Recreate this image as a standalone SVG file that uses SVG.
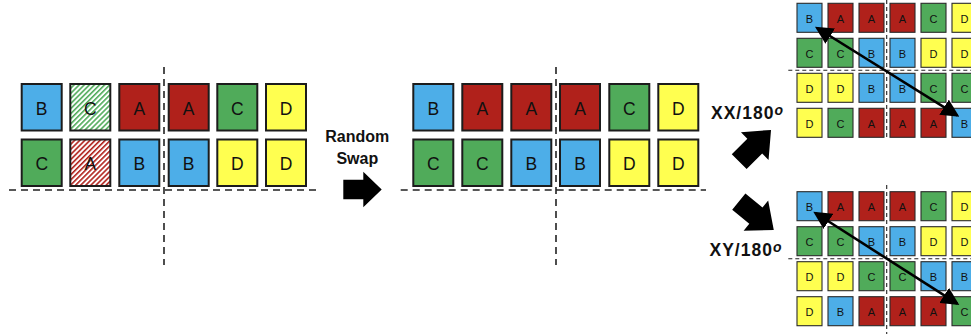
<svg xmlns="http://www.w3.org/2000/svg" width="971" height="334" viewBox="0 0 971 334">
<style>
.bx{stroke:#1c1c1c;stroke-width:2}
.sb{stroke:#2a2a2a;stroke-width:1.1}
.b{fill:#4DAEE8}.r{fill:#B0211B}.g{fill:#50AB5A}.y{fill:#FFFF50}
.hg{fill:url(#hatchG)}.hr{fill:url(#hatchR)}
.t{font-family:"Liberation Sans",Arial,sans-serif;font-size:17.5px;fill:#111;text-anchor:middle}
.ts{font-family:"Liberation Sans",Arial,sans-serif;font-size:11px;fill:#111;text-anchor:middle}
.lbl{font-family:"Liberation Sans",Arial,sans-serif;font-weight:bold;font-size:17.5px;fill:#111;letter-spacing:1px}
.sw{font-family:"Liberation Sans",Arial,sans-serif;font-weight:bold;font-size:16px;fill:#111;text-anchor:middle}
.sup{font-size:14px;font-style:italic;letter-spacing:0}
.dl{stroke:#222;stroke-width:1.6;stroke-dasharray:7 5;fill:none}
.ds{stroke:#222;stroke-width:1.1;stroke-dasharray:4 3;fill:none}
.da{stroke:#000;stroke-width:2.6;fill:none;marker-start:url(#ah);marker-end:url(#ah)}
</style>
<defs>
<pattern id="hatchG" width="3.6" height="3.6" patternUnits="userSpaceOnUse" patternTransform="rotate(45)">
<rect width="3.6" height="3.6" fill="#fff"/><rect width="1.6" height="3.6" fill="#50AB5A"/>
</pattern>
<pattern id="hatchR" width="3.6" height="3.6" patternUnits="userSpaceOnUse" patternTransform="rotate(45)">
<rect width="3.6" height="3.6" fill="#fff"/><rect width="1.6" height="3.6" fill="#B0211B"/>
</pattern>
<marker id="ah" viewBox="0 0 18 18" refX="15.5" refY="9" markerWidth="18" markerHeight="18" markerUnits="userSpaceOnUse" orient="auto-start-reverse">
<path d="M0,0 L18,9 L0,18 z" fill="#000"/>
</marker>
</defs>

<!-- Left grid -->
<g id="L11"><rect class="bx b" x="21.7" y="84" width="40" height="46.5"/><text class="t" x="41.7" y="114.5">B</text></g>
<g id="L12"><rect class="bx hg" x="70.3" y="84" width="40" height="46.5"/><text class="t" x="90.3" y="114.5">C</text></g>
<g id="L13"><rect class="bx r" x="119.3" y="84" width="40" height="46.5"/><text class="t" x="139.3" y="114.5">A</text></g>
<g id="L14"><rect class="bx r" x="168.7" y="84" width="40" height="46.5"/><text class="t" x="188.7" y="114.5">A</text></g>
<g id="L15"><rect class="bx g" x="217.3" y="84" width="40" height="46.5"/><text class="t" x="237.3" y="114.5">C</text></g>
<g id="L16"><rect class="bx y" x="266" y="84" width="40" height="46.5"/><text class="t" x="286" y="114.5">D</text></g>
<g id="L21"><rect class="bx g" x="21.7" y="139.5" width="40" height="46.5"/><text class="t" x="41.7" y="170">C</text></g>
<g id="L22"><rect class="bx hr" x="70.3" y="139.5" width="40" height="46.5"/><text class="t" x="90.3" y="170">A</text></g>
<g id="L23"><rect class="bx b" x="119.3" y="139.5" width="40" height="46.5"/><text class="t" x="139.3" y="170">B</text></g>
<g id="L24"><rect class="bx b" x="168.7" y="139.5" width="40" height="46.5"/><text class="t" x="188.7" y="170">B</text></g>
<g id="L25"><rect class="bx y" x="217.3" y="139.5" width="40" height="46.5"/><text class="t" x="237.3" y="170">D</text></g>
<g id="L26"><rect class="bx y" x="266" y="139.5" width="40" height="46.5"/><text class="t" x="286" y="170">D</text></g>

<!-- Middle grid -->
<g id="M11"><rect class="bx b" x="413.3" y="84" width="40" height="46.5"/><text class="t" x="433.3" y="114.5">B</text></g>
<g id="M12"><rect class="bx r" x="462.3" y="84" width="40" height="46.5"/><text class="t" x="482.3" y="114.5">A</text></g>
<g id="M13"><rect class="bx r" x="511.3" y="84" width="40" height="46.5"/><text class="t" x="531.3" y="114.5">A</text></g>
<g id="M14"><rect class="bx r" x="560" y="84" width="40" height="46.5"/><text class="t" x="580" y="114.5">A</text></g>
<g id="M15"><rect class="bx g" x="609.3" y="84" width="40" height="46.5"/><text class="t" x="629.3" y="114.5">C</text></g>
<g id="M16"><rect class="bx y" x="658.3" y="84" width="40" height="46.5"/><text class="t" x="678.3" y="114.5">D</text></g>
<g id="M21"><rect class="bx g" x="413.3" y="139.5" width="40" height="46.5"/><text class="t" x="433.3" y="170">C</text></g>
<g id="M22"><rect class="bx g" x="462.3" y="139.5" width="40" height="46.5"/><text class="t" x="482.3" y="170">C</text></g>
<g id="M23"><rect class="bx b" x="511.3" y="139.5" width="40" height="46.5"/><text class="t" x="531.3" y="170">B</text></g>
<g id="M24"><rect class="bx b" x="560" y="139.5" width="40" height="46.5"/><text class="t" x="580" y="170">B</text></g>
<g id="M25"><rect class="bx y" x="609.3" y="139.5" width="40" height="46.5"/><text class="t" x="629.3" y="170">D</text></g>
<g id="M26"><rect class="bx y" x="658.3" y="139.5" width="40" height="46.5"/><text class="t" x="678.3" y="170">D</text></g>

<!-- Top-right grid (XX/180) -->
<g id="X11"><rect class="sb b" x="797" y="3.3" width="25" height="29"/><text class="ts" x="809.5" y="22.5">B</text></g>
<g id="X12"><rect class="sb r" x="828" y="3.3" width="25" height="29"/><text class="ts" x="840.5" y="22.5">A</text></g>
<g id="X13"><rect class="sb r" x="859" y="3.3" width="25" height="29"/><text class="ts" x="871.5" y="22.5">A</text></g>
<g id="X14"><rect class="sb r" x="890" y="3.3" width="25" height="29"/><text class="ts" x="902.5" y="22.5">A</text></g>
<g id="X15"><rect class="sb g" x="921" y="3.3" width="25" height="29"/><text class="ts" x="933.5" y="22.5">C</text></g>
<g id="X16"><rect class="sb y" x="952" y="3.3" width="25" height="29"/><text class="ts" x="964.5" y="22.5">D</text></g>
<g id="X21"><rect class="sb g" x="797" y="38.3" width="25" height="29"/><text class="ts" x="809.5" y="57.5">C</text></g>
<g id="X22"><rect class="sb g" x="828" y="38.3" width="25" height="29"/><text class="ts" x="840.5" y="57.5">C</text></g>
<g id="X23"><rect class="sb b" x="859" y="38.3" width="25" height="29"/><text class="ts" x="871.5" y="57.5">B</text></g>
<g id="X24"><rect class="sb b" x="890" y="38.3" width="25" height="29"/><text class="ts" x="902.5" y="57.5">B</text></g>
<g id="X25"><rect class="sb y" x="921" y="38.3" width="25" height="29"/><text class="ts" x="933.5" y="57.5">D</text></g>
<g id="X26"><rect class="sb y" x="952" y="38.3" width="25" height="29"/><text class="ts" x="964.5" y="57.5">D</text></g>
<g id="X31"><rect class="sb y" x="797" y="73.3" width="25" height="29"/><text class="ts" x="809.5" y="92.5">D</text></g>
<g id="X32"><rect class="sb y" x="828" y="73.3" width="25" height="29"/><text class="ts" x="840.5" y="92.5">D</text></g>
<g id="X33"><rect class="sb b" x="859" y="73.3" width="25" height="29"/><text class="ts" x="871.5" y="92.5">B</text></g>
<g id="X34"><rect class="sb b" x="890" y="73.3" width="25" height="29"/><text class="ts" x="902.5" y="92.5">B</text></g>
<g id="X35"><rect class="sb g" x="921" y="73.3" width="25" height="29"/><text class="ts" x="933.5" y="92.5">C</text></g>
<g id="X36"><rect class="sb g" x="952" y="73.3" width="25" height="29"/><text class="ts" x="964.5" y="92.5">C</text></g>
<g id="X41"><rect class="sb y" x="797" y="108.3" width="25" height="29"/><text class="ts" x="809.5" y="127.5">D</text></g>
<g id="X42"><rect class="sb g" x="828" y="108.3" width="25" height="29"/><text class="ts" x="840.5" y="127.5">C</text></g>
<g id="X43"><rect class="sb r" x="859" y="108.3" width="25" height="29"/><text class="ts" x="871.5" y="127.5">A</text></g>
<g id="X44"><rect class="sb r" x="890" y="108.3" width="25" height="29"/><text class="ts" x="902.5" y="127.5">A</text></g>
<g id="X45"><rect class="sb r" x="921" y="108.3" width="25" height="29"/><text class="ts" x="933.5" y="127.5">A</text></g>
<g id="X46"><rect class="sb b" x="952" y="108.3" width="25" height="29"/><text class="ts" x="964.5" y="127.5">B</text></g>

<!-- Bottom-right grid (XY/180) -->
<g id="Y11"><rect class="sb b" x="797" y="191.7" width="25" height="29"/><text class="ts" x="809.5" y="210.9">B</text></g>
<g id="Y12"><rect class="sb r" x="828" y="191.7" width="25" height="29"/><text class="ts" x="840.5" y="210.9">A</text></g>
<g id="Y13"><rect class="sb r" x="859" y="191.7" width="25" height="29"/><text class="ts" x="871.5" y="210.9">A</text></g>
<g id="Y14"><rect class="sb r" x="890" y="191.7" width="25" height="29"/><text class="ts" x="902.5" y="210.9">A</text></g>
<g id="Y15"><rect class="sb g" x="921" y="191.7" width="25" height="29"/><text class="ts" x="933.5" y="210.9">C</text></g>
<g id="Y16"><rect class="sb y" x="952" y="191.7" width="25" height="29"/><text class="ts" x="964.5" y="210.9">D</text></g>
<g id="Y21"><rect class="sb g" x="797" y="226.7" width="25" height="29"/><text class="ts" x="809.5" y="245.9">C</text></g>
<g id="Y22"><rect class="sb g" x="828" y="226.7" width="25" height="29"/><text class="ts" x="840.5" y="245.9">C</text></g>
<g id="Y23"><rect class="sb b" x="859" y="226.7" width="25" height="29"/><text class="ts" x="871.5" y="245.9">B</text></g>
<g id="Y24"><rect class="sb b" x="890" y="226.7" width="25" height="29"/><text class="ts" x="902.5" y="245.9">B</text></g>
<g id="Y25"><rect class="sb y" x="921" y="226.7" width="25" height="29"/><text class="ts" x="933.5" y="245.9">D</text></g>
<g id="Y26"><rect class="sb y" x="952" y="226.7" width="25" height="29"/><text class="ts" x="964.5" y="245.9">D</text></g>
<g id="Y31"><rect class="sb y" x="797" y="261.7" width="25" height="29"/><text class="ts" x="809.5" y="280.9">D</text></g>
<g id="Y32"><rect class="sb y" x="828" y="261.7" width="25" height="29"/><text class="ts" x="840.5" y="280.9">D</text></g>
<g id="Y33"><rect class="sb g" x="859" y="261.7" width="25" height="29"/><text class="ts" x="871.5" y="280.9">C</text></g>
<g id="Y34"><rect class="sb g" x="890" y="261.7" width="25" height="29"/><text class="ts" x="902.5" y="280.9">C</text></g>
<g id="Y35"><rect class="sb b" x="921" y="261.7" width="25" height="29"/><text class="ts" x="933.5" y="280.9">B</text></g>
<g id="Y36"><rect class="sb b" x="952" y="261.7" width="25" height="29"/><text class="ts" x="964.5" y="280.9">B</text></g>
<g id="Y41"><rect class="sb y" x="797" y="296.7" width="25" height="29"/><text class="ts" x="809.5" y="315.9">D</text></g>
<g id="Y42"><rect class="sb b" x="828" y="296.7" width="25" height="29"/><text class="ts" x="840.5" y="315.9">B</text></g>
<g id="Y43"><rect class="sb r" x="859" y="296.7" width="25" height="29"/><text class="ts" x="871.5" y="315.9">A</text></g>
<g id="Y44"><rect class="sb r" x="890" y="296.7" width="25" height="29"/><text class="ts" x="902.5" y="315.9">A</text></g>
<g id="Y45"><rect class="sb r" x="921" y="296.7" width="25" height="29"/><text class="ts" x="933.5" y="315.9">A</text></g>
<g id="Y46"><rect class="sb g" x="952" y="296.7" width="25" height="29"/><text class="ts" x="964.5" y="315.9">C</text></g>

<!-- Connectors: dashed dividers, block arrows, swap arrows -->
<g id="connectors">
<path class="dl" d="M9,190 H319 M164,67 V265"/>
<path class="dl" d="M400.7,190 H706 M556,67 V265"/>
<path class="ds" d="M886.7,0 V140 M788.3,70.3 H971"/>
<path class="ds" d="M886.7,185 V334 M788.3,258.7 H971"/>
<polygon points="0,-9.7 20,-9.7 20,-17.8 38.4,0 20,17.8 20,9.7 0,9.7" transform="translate(343.3,189.5)" fill="#000"/>
<polygon points="0,-10.5 22,-10.5 22,-19.5 45,0 22,19.5 22,10.5 0,10.5" transform="translate(739.2,161.7) rotate(-45)" fill="#000"/>
<polygon points="0,-10.5 22,-10.5 22,-19.5 45,0 22,19.5 22,10.5 0,10.5" transform="translate(738.8,201.7) rotate(39)" fill="#000"/>
<line class="da" x1="817.1" y1="28" x2="957.2" y2="115.4"/>
<line class="da" x1="815.4" y1="213" x2="957.2" y2="303.7"/>
</g>

<!-- Labels -->
<g id="labels">
<text class="sw" x="357.3" y="141.7">Random</text>
<text class="sw" x="357.3" y="164">Swap</text>
<text class="lbl" x="711" y="119.3">XX/180<tspan class="sup" dy="-4.5">o</tspan></text>
<text class="lbl" x="709.5" y="256">XY/180<tspan class="sup" dy="-4.5">o</tspan></text>
</g>
</svg>
